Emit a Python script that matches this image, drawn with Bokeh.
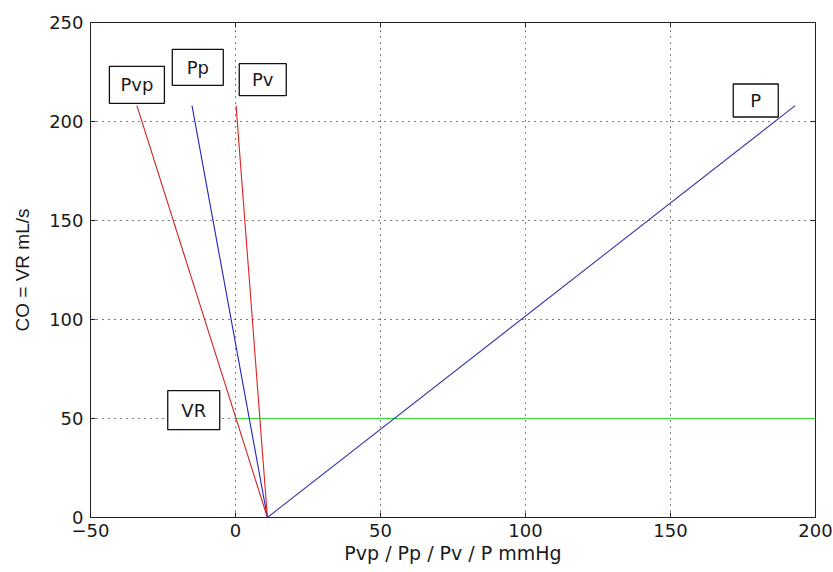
from bokeh.plotting import figure
from bokeh.models import Range1d, ColumnDataSource
from bokeh.core.properties import value
from bokeh.embed import file_html
from bokeh.resources import INLINE

# ---- data ----
co = [0, 208]            # CO = VR mL/s (y)
pvp = [11, -34]          # Pvp mmHg
pp = [11, -15]           # Pp mmHg
pv = [11, 0.2]           # Pv mmHg
p_art = [11, 193]        # P mmHg
vr_x = [0, 200]          # VR level line
vr_y = [50, 50]

x_ticks = [-50, 0, 50, 100, 150, 200]
y_ticks = [0, 50, 100, 150, 200, 250]

box_labels = ["Pvp", "Pp", "Pv", "P", "VR"]
box_x = [-34.0, -13.0, 9.4, 179.4, -14.4]
box_y = [218.5, 227.3, 221.1, 210.6, 54.2]
box_w = [55, 51, 47, 45, 52]
box_h = [37, 36, 32, 33, 39]

FONT = "DejaVu Sans"
X0, X1, Y0, Y1 = x_ticks[0], x_ticks[-1], y_ticks[0], y_ticks[-1]
FW, FH = 725, 495
TICK = 5  # px

p = figure(
    frame_width=FW, frame_height=FH,
    min_border_left=90, min_border_right=18, min_border_top=22, min_border_bottom=55,
    x_range=Range1d(X0, X1), y_range=Range1d(Y0, Y1),
    output_backend="svg", toolbar_location=None,
    background_fill_color="white", border_fill_color="white",
)
p.outline_line_color = "#222222"
p.outline_line_width = 1

for ax in (p.xaxis[0], p.yaxis[0]):
    ax.axis_line_color = "#222222"
    ax.major_tick_in = TICK
    ax.major_tick_out = 0
    ax.minor_tick_line_color = None
    ax.major_tick_line_color = "#222222"
    ax.major_label_text_font = FONT
    ax.major_label_text_font_size = "18px"
    ax.major_label_text_color = "#1a1a1a"
    ax.axis_label_text_font_style = "normal"
    ax.axis_label_text_color = "#1a1a1a"

p.xaxis.ticker = x_ticks
p.yaxis.ticker = y_ticks
p.xaxis.major_label_standoff = 6
p.yaxis.major_label_standoff = 7
p.xaxis.axis_label = "Pvp / Pp / Pv / P mmHg"
p.xaxis.axis_label_text_font = FONT
p.xaxis.axis_label_text_font_size = "19px"
p.xaxis.axis_label_standoff = 2
p.yaxis.axis_label = "CO = VR mL/s"
p.yaxis.axis_label_text_font = "Liberation Sans"
p.yaxis.axis_label_text_font_size = "19px"
p.yaxis.axis_label_standoff = 13

# inward ticks on top and right edges (box on)
dx = TICK * (X1 - X0) / FW
dy = TICK * (Y1 - Y0) / FH
p.segment(x0=x_ticks, y0=[Y1] * len(x_ticks), x1=x_ticks, y1=[Y1 - dy] * len(x_ticks),
          line_color="#222222", line_width=1)
p.segment(x0=[X1] * len(y_ticks), y0=y_ticks, x1=[X1 - dx] * len(y_ticks), y1=y_ticks,
          line_color="#222222", line_width=1)

# grid
p.xgrid.ticker = x_ticks
p.ygrid.ticker = y_ticks
for g in (p.xgrid[0], p.ygrid[0]):
    g.grid_line_color = "black"
    g.grid_line_dash = "1 5"
    g.grid_line_width = 1

# lines
p.line(vr_x, vr_y, line_color="#33dd33", line_width=1.2)
p.line(pvp, co, line_color="#cc2222", line_width=1.1)
p.line(pp, co, line_color="#2222bb", line_width=1.1)
p.line(pv, co, line_color="#dd2222", line_width=1.1)
p.line(p_art, co, line_color="#3a3aa8", line_width=1.1)

# labelled boxes
src = ColumnDataSource(dict(x=box_x, y=box_y, w=box_w, h=box_h, t=box_labels))
p.rect(x="x", y="y", width="w", height="h", width_units="screen", height_units="screen",
       source=src, fill_color="white", line_color="#111111", line_width=1.3)
p.text(x="x", y="y", text="t", source=src, text_align="center", text_baseline="middle",
       text_font=value(FONT), text_font_size="18px", text_color="#1a1a1a")

open("out.html", "w").write(file_html(p, INLINE))
